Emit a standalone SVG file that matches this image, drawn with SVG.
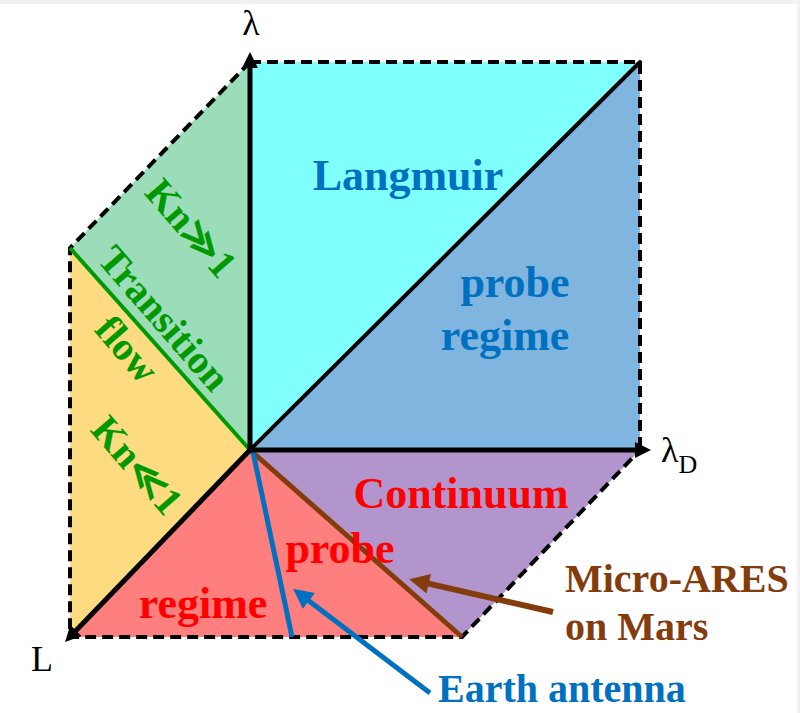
<svg xmlns="http://www.w3.org/2000/svg" width="800" height="713" viewBox="0 0 800 713">
<defs>
<style>
.dash{fill:none;stroke:#000;stroke-width:4;stroke-dasharray:11 6}
.axis{fill:none;stroke:#000;stroke-width:5}
.lbl{font-family:"Liberation Serif","DejaVu Serif",serif;fill:#000}
.bt{font-family:"Liberation Serif","DejaVu Serif",serif;font-weight:bold}
.blue{fill:#0070C0}
.red{fill:#FF0000}
.grn{fill:#009900}
.brn{fill:#843C0C}
</style>
<marker id="ahK" viewBox="0 0 10 10" refX="4" refY="5" markerWidth="16" markerHeight="16" markerUnits="userSpaceOnUse" orient="auto"><path d="M0,0 L10,5 L0,10 z" fill="#000"/></marker>
<marker id="ahB" viewBox="0 0 10 10" refX="4" refY="5" markerWidth="22" markerHeight="20" markerUnits="userSpaceOnUse" orient="auto"><path d="M0,0 L10,5 L0,10 z" fill="#843C0C"/></marker>
<marker id="ahU" viewBox="0 0 10 10" refX="4" refY="5" markerWidth="22" markerHeight="20" markerUnits="userSpaceOnUse" orient="auto"><path d="M0,0 L10,5 L0,10 z" fill="#0070C0"/></marker>
</defs>
<rect x="0" y="0" width="800" height="713" fill="#f2f2f2"/>
<rect x="0" y="4" width="797" height="709" fill="#ffffff"/>

<g id="faces">
<polygon id="langmuir-face" points="250,62 640,62 250,450" fill="#80FFFF"/>
<polygon id="probe-face" points="640,62 640,450 250,450" fill="#7FB5DE"/>
<polygon id="kn-large-face" points="250,62 250,450 70,248" fill="#9BDDB9"/>
<polygon id="kn-small-face" points="70,248 250,450 70,637" fill="#FDDB80"/>
<polygon id="continuum-face" points="250,450 462,637 70,637" fill="#FF7F7F"/>
<polygon id="continuum-face2" points="250,450 640,450 462,637" fill="#B395CD"/>
</g>

<g id="connectors">
<polyline class="dash" points="250,62 640,62 640,450"/>
<polyline class="dash" points="250,62 70,248 70,637 462,637 640,450"/>
<line x1="250" y1="450" x2="640" y2="62" stroke="#000" stroke-width="4" stroke-linecap="round"/>
<line x1="70" y1="248" x2="250" y2="450" stroke="#009900" stroke-width="4"/>
<line x1="250" y1="450" x2="462" y2="637" stroke="#843C0C" stroke-width="5"/>
<line x1="253" y1="452" x2="292" y2="637" stroke="#0070C0" stroke-width="5"/>
<line class="axis" x1="250" y1="452" x2="250" y2="61.6" marker-end="url(#ahK)"/>
<line class="axis" x1="248" y1="450" x2="641.4" y2="450" marker-end="url(#ahK)"/>
<line class="axis" x1="251" y1="449" x2="71.7" y2="635.1" marker-end="url(#ahK)"/>
<line x1="553" y1="612" x2="420.9" y2="581.9" stroke="#843C0C" stroke-width="6" marker-end="url(#ahB)"/>
<line x1="430" y1="693" x2="302.5" y2="596" stroke="#0070C0" stroke-width="5" marker-end="url(#ahU)"/>
</g>

<g id="axis-labels">
<text class="lbl" x="251" y="35" font-size="36" text-anchor="middle">λ</text>
<text class="lbl" x="661" y="462" font-size="36">λ<tspan font-size="26" dy="11">D</tspan></text>
<text class="lbl" x="31" y="671" font-size="36">L</text>
</g>

<g id="langmuir">
<text class="bt blue" x="408" y="190" font-size="44" text-anchor="middle">Langmuir</text>
<text class="bt blue" x="515" y="297" font-size="44" text-anchor="middle">probe</text>
<text class="bt blue" x="505" y="350" font-size="44" text-anchor="middle">regime</text>
</g>

<g id="continuum">
<text class="bt red" x="461" y="508" font-size="44" text-anchor="middle">Continuum</text>
<text class="bt red" x="340" y="563" font-size="44" text-anchor="middle">probe</text>
<text class="bt red" x="203" y="618" font-size="44" text-anchor="middle">regime</text>
</g>

<g id="transition">
<text class="bt grn" font-size="40" text-anchor="middle" transform="translate(181,237) rotate(49)">Kn≫1</text>
<text class="bt grn" font-size="40" text-anchor="middle" transform="translate(154,327) rotate(49)">Transition</text>
<text class="bt grn" font-size="40" text-anchor="middle" transform="translate(117,358) rotate(49)">flow</text>
<text class="bt grn" font-size="40" text-anchor="middle" transform="translate(127,474) rotate(49)">Kn≪1</text>
</g>

<g id="micro-ares">
<text class="bt brn" x="565" y="592" font-size="40">Micro-ARES</text>
<text class="bt brn" x="565" y="640" font-size="40">on Mars</text>
</g>

<g id="earth-antenna">
<text class="bt blue" x="438" y="702" font-size="40">Earth antenna</text>
</g>
</svg>
